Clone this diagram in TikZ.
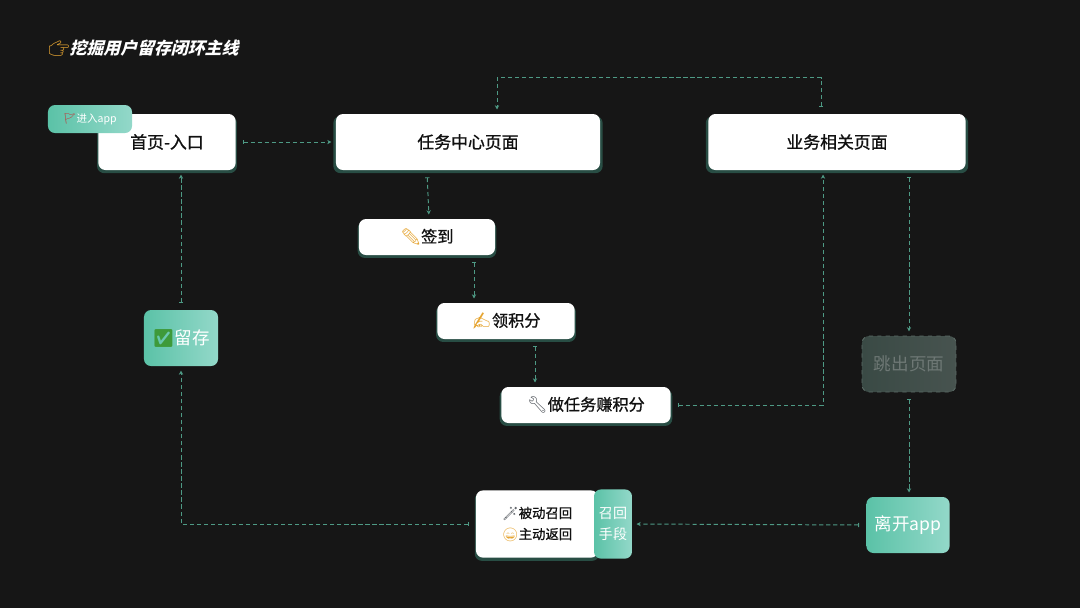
\documentclass[tikz,border=0pt]{standalone}
\usepackage{fontspec}
\newfontfamily\cjk{Noto Sans CJK SC}
\newfontfamily\cjkmed[FakeBold=1]{Noto Sans CJK SC}
\newfontfamily\titlefont[FakeSlant=0.25,BoldFeatures={FakeSlant=0.25}]{Noto Sans CJK SC}
\newfontfamily\emoji{Noto Emoji}
\usetikzlibrary{arrows.meta,calc,shadows}

\definecolor{bgdark}{HTML}{161616}
\definecolor{linkc}{HTML}{4E9A85}
\definecolor{tealL}{HTML}{5BC2A7}
\definecolor{tealR}{HTML}{93D8C9}
\definecolor{glowc}{HTML}{3B8572}
\definecolor{inkc}{HTML}{111111}
\definecolor{fadeL}{HTML}{3A4A45}
\definecolor{fadeR}{HTML}{47534F}
\definecolor{fadeline}{HTML}{5B6B66}
\definecolor{fadetext}{HTML}{6E7875}
\definecolor{emoyel}{HTML}{E6A532}
\definecolor{emored}{HTML}{C8282D}
\definecolor{emogrn}{HTML}{3E9A3A}
\definecolor{emogry}{HTML}{555A60}

\newcommand{\emo}[2]{{\emoji\textcolor{#1}{#2}}}

\begin{document}
\begin{tikzpicture}[x=0.025cm,y=-0.025cm,
    page/.style={rounded corners=5pt, fill=white, text=inkc, inner sep=0pt,
      font=\cjkmed\fontsize{12}{14}\selectfont, minimum height=1.4cm,
      drop shadow={shadow xshift=0pt,shadow yshift=-1.8pt,shadow scale=1.02,
        fill=glowc,opacity=.5}},
    stepbox/.style={page, minimum height=0.9cm, font=\cjkmed\fontsize{11.5}{14}\selectfont},
    mintbox/.style={rounded corners=5pt, left color=tealL, right color=tealR,
      text=white, inner sep=0pt, minimum height=1.4cm,
      font=\cjk\fontsize{12.5}{14}\selectfont},
    link/.style={linkc, line width=0.7pt, dash pattern=on 3pt off 2pt,
      {Bar[width=3pt,line width=0.6pt]}-{Stealth[length=3pt,width=3pt]},
      shorten <=5pt, shorten >=3pt}]

  \fill[bgdark] (0,0) rectangle (1080,608);
  \useasboundingbox (0,0) rectangle (1080,608);

  \node[anchor=west, text=white, font=\titlefont\bfseries\fontsize{12}{14}\selectfont, inner sep=0pt]
    (title) at (48,48) {\emo{emoyel}{👉}挖掘用户留存闭环主线};

  % top row
  \node[page, minimum width=3.43cm] (home) at (167,142) {首页-入口};
  \node[mintbox, minimum width=2.1cm, minimum height=0.7cm,
    font=\cjk\fontsize{7.5}{9}\selectfont] (enter) at (90,119) {\emo{emored}{🚩}进入app};
  \node[page, minimum width=6.6cm] (hub) at (468,142) {任务中心页面};
  \node[page, minimum width=6.43cm] (biz) at (837,142) {业务相关页面};

  % steps
  \node[stepbox, minimum width=3.4cm] (checkin) at (427,237) {\emo{emoyel}{✏}签到};
  \node[stepbox, minimum width=3.43cm] (points) at (506,321) {\emo{emoyel}{✍}领积分};
  \node[stepbox, minimum width=4.23cm] (task) at (586,405) {\emo{emogry}{🔧}做任务赚积分};

  % left and right columns
  \node[mintbox, minimum width=1.85cm] (retain) at (181,338) {\emo{emogrn}{✅}留存};
  \node[rounded corners=5pt, left color=fadeL, right color=fadeR, draw=fadeline,
    dashed, line width=0.6pt, text=fadetext, inner sep=0pt, minimum width=2.35cm,
    minimum height=1.4cm, font=\cjk\fontsize{12.5}{14}\selectfont] (jump) at (909,364) {跳出页面};
  \node[mintbox, minimum width=2.08cm] (leave) at (908,525) {离开app};

  % recall
  \node[page, minimum width=3.05cm, minimum height=1.68cm, align=center,
    font=\cjkmed\fontsize{9.5}{15}\selectfont] (recall) at (537,524)
    {\emo{emogry}{🪄}被动召回\\\emo{emoyel}{😄}主动返回};
  \node[mintbox, minimum width=0.95cm, minimum height=1.73cm, align=center,
    font=\cjk\fontsize{10}{15.5}\selectfont] (means) at (613,524) {召回\\手段};

  \draw[link] (home.east) -- (hub.west);
  \draw[link] (hub.south -| checkin.north) -- ($(checkin.north)+(2,0)$);
  \draw[link] ($(checkin.south)+(47,0)$) -- ($(points.north)+(-32,0)$);
  \draw[link] ($(points.south)+(29,0)$) -- ($(task.north)+(-51,0)$);
  \draw[link] (task.east) -| ($(biz.south)+(-14,0)$);
  \draw[link] ($(biz.north)+(-16,0)$) -- ++(0,-36) -| ($(hub.north)+(29,0)$);
  \draw[link] (biz.south -| jump.north) -- (jump.north);
  \draw[link] (jump.south) -- (leave.north -| jump.south);
  \draw[link] (leave.west) -- (means.east);
  \draw[link] (recall.west) -| (retain.south);
  \draw[link] (retain.north) -- (retain.north |- home.south);
\end{tikzpicture}
\end{document}
